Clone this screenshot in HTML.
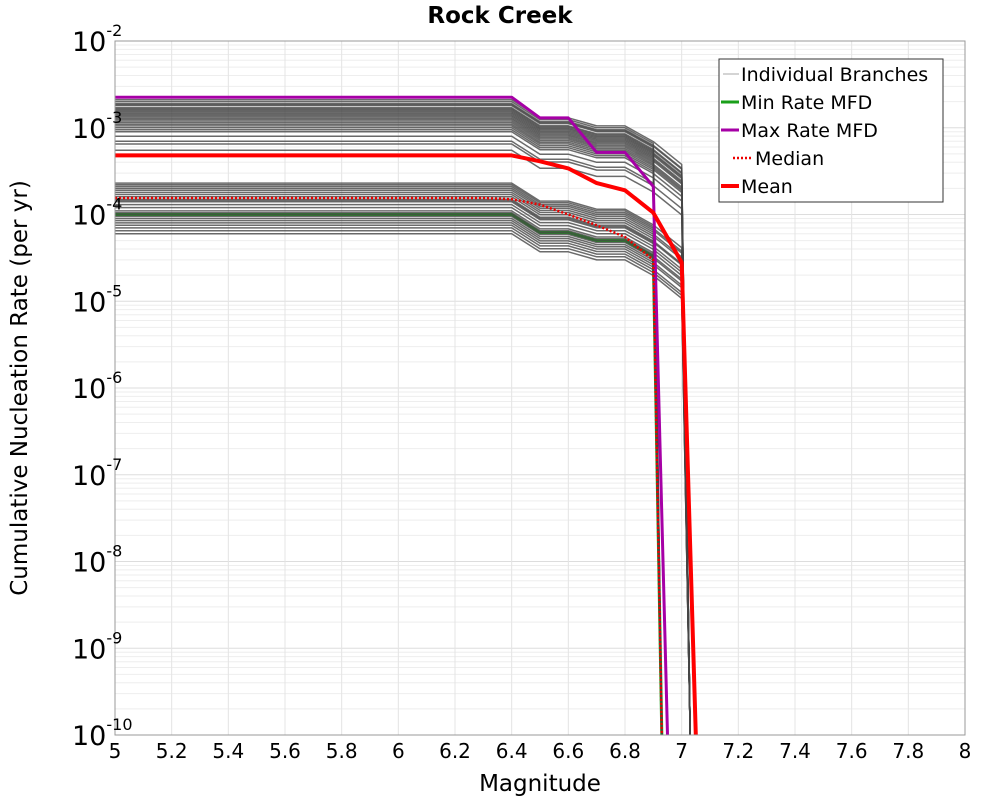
<!DOCTYPE html>
<html><head><meta charset="utf-8"><style>
body{margin:0;background:#fff;font-family:"DejaVu Sans","Liberation Sans",sans-serif}
</style></head><body>
<svg id="chart" width="1000" height="800" xmlns="http://www.w3.org/2000/svg" font-family="DejaVu Sans, Liberation Sans, sans-serif">
<rect width="1000" height="800" fill="#fff"/>
<text x="500" y="23" text-anchor="middle" font-size="23" font-weight="bold">Rock Creek</text>
<g id="grid"></g>
<g id="series"></g>
<rect x="115" y="41" width="850" height="694" fill="none" stroke="#999" stroke-width="1"/>
<g id="axes"></g>
<text x="540" y="791" text-anchor="middle" font-size="23">Magnitude</text>
<text transform="translate(27,388) rotate(-90)" text-anchor="middle" font-size="23">Cumulative Nucleation Rate (per yr)</text>
<g>
<rect x="719" y="59" width="224" height="143" fill="#fff" stroke="#333" stroke-width="1"/>
<g><line x1="723" y1="74" x2="739" y2="74" stroke="#aaa" stroke-width="1"/><text x="741" y="81" font-size="19">Individual Branches</text></g>
<g><line x1="721" y1="102" x2="739" y2="102" stroke="#1a9f1a" stroke-width="3"/><text x="741" y="109" font-size="19">Min Rate MFD</text></g>
<g><line x1="721" y1="130" x2="739" y2="130" stroke="#a600a6" stroke-width="3"/><text x="741" y="137" font-size="19">Max Rate MFD</text></g>
<g><line x1="733" y1="158" x2="751" y2="158" stroke="#e00" stroke-width="2.5" stroke-dasharray="2,2"/><text x="755" y="165" font-size="19">Median</text></g>
<g><line x1="721" y1="186" x2="739" y2="186" stroke="#f00" stroke-width="4"/><text x="741" y="193" font-size="19">Mean</text></g>
</g>
</svg>
<script>
const xTicks=[5,5.2,5.4,5.6,5.8,6,6.2,6.4,6.6,6.8,7,7.2,7.4,7.6,7.8,8];
const xTickLabels=["5","5.2","5.4","5.6","5.8","6","6.2","6.4","6.6","6.8","7","7.2","7.4","7.6","7.8","8"];
const yExps=[-2,-3,-4,-5,-6,-7,-8,-9,-10];
const branchMags=[5,6.4,6.5,6.6,6.7,6.8,6.9,7.0];
const branchShape=[1,1,0.62,0.62,0.5,0.5,0.33,0.18];
const upperBases=[2.1e-3,2.0e-3,1.9e-3,1.85e-3,1.8e-3,1.7e-3,1.65e-3,1.6e-3,1.55e-3,1.5e-3,1.45e-3,1.4e-3,1.35e-3,1.3e-3,1.25e-3,1.2e-3,1.15e-3,1.1e-3,1.05e-3,1.0e-3,9.5e-4,9e-4,8e-4,7e-4,6.5e-4,5.5e-4];
const upperEnds=[7.0,6.9,7.0,7.0,6.9,7.0,7.0,6.9,7.0,7.0,7.0,6.9,7.0,7.0,7.0,6.9,7.0,7.0,7.0,7.0,6.9,7.0,7.0,6.9,7.0,7.0];
const lowerBases=[2.3e-4,2.2e-4,2.1e-4,2.0e-4,1.9e-4,1.8e-4,1.7e-4,1.6e-4,1.5e-4,1.45e-4,1.4e-4,1.3e-4,1.2e-4,1.1e-4,1.05e-4,1e-4,9.5e-5,9e-5,8.5e-5,8e-5,7.5e-5,7e-5,6.5e-5,6e-5];
const lowerEnds=[7.0,6.9,7.0,7.0,6.9,7.0,7.0,6.9,7.0,7.0,6.9,7.0,7.0,7.0,6.9,7.0,7.0,6.9,7.0,7.0,6.9,7.0,7.0,7.0];
const meanMags=[5,6.4,6.5,6.6,6.7,6.8,6.9,7.0,7.05];
const meanVals=[4.8e-4,4.8e-4,4.1e-4,3.4e-4,2.3e-4,1.9e-4,1.05e-4,2.8e-5,1e-10];
const maxMags=[5,6.4,6.5,6.6,6.7,6.8,6.9,6.95];
const maxVals=[2.25e-3,2.25e-3,1.3e-3,1.3e-3,5.2e-4,5.2e-4,2.1e-4,1e-10];
const minMags=[5,6.4,6.5,6.6,6.7,6.8,6.9,6.93];
const minVals=[1e-4,1e-4,6.2e-5,6.2e-5,5e-5,5e-5,3.3e-5,1e-10];
const medMags=[5,6.3,6.4,6.5,6.6,6.7,6.8,6.9,6.93];
const medVals=[1.55e-4,1.55e-4,1.5e-4,1.3e-4,1.0e-4,7.5e-5,5.5e-5,3e-5,1e-10];

const NS="http://www.w3.org/2000/svg";
const X0=115,X1=965,Y0=41,Y1=735;
const xs=m=>X0+(m-5)/3*(X1-X0);
const ys=v=>Y0+(-2-Math.log10(v))/8*(Y1-Y0);
function mk(tag,attrs,parent){const e=document.createElementNS(NS,tag);for(const k in attrs)e.setAttribute(k,attrs[k]);parent.appendChild(e);return e;}
const grid=document.getElementById('grid'),axes=document.getElementById('axes'),ser=document.getElementById('series');
for(let e=-10;e<-2;e++)for(let k=1;k<10;k++){const y=ys(k*Math.pow(10,e));
 const l=mk('line',{x1:X0,x2:X1,y1:y,y2:y,stroke:k==1?'#ddd':'#eee','stroke-width':1},grid);
 
 }
xTicks.forEach((t,i)=>{const x=xs(t);
 const l=mk('line',{x1:x,x2:x,y1:Y0,y2:Y1,stroke:'#e4e4e4','stroke-width':1},grid);
 
 
 const tx=mk('text',{x:x,y:758,'text-anchor':'middle','font-size':20},axes);tx.textContent=xTickLabels[i];
 
 });
yExps.forEach(e=>{const y=ys(Math.pow(10,e));
 const tx=mk('text',{x:72,y:y+10,'font-size':27},axes);
 
 
 tx.textContent='10';const s=mk('tspan',{dy:-15,'font-size':16},tx);s.textContent=String(e);});
function pline(mags,vals,stroke,w,dash,name){
 const pts=mags.map((m,i)=>xs(m).toFixed(1)+','+ys(vals[i]).toFixed(1)).join(' ');
 const p=mk('polyline',{points:pts,fill:'none',stroke:stroke,'stroke-width':w,'stroke-linejoin':'round'},ser);
 if(dash)p.setAttribute('stroke-dasharray',dash);
 
 }
pline(minMags,minVals,'#1a9f1a',3,null,'min-rate-line');
function branches(bases,ends){bases.forEach((b,i)=>{
 const mags=[],vals=[];branchMags.forEach((m,j)=>{if(m<=ends[i]){mags.push(m);vals.push(b*branchShape[j]);}});
 mags.push(ends[i]+0.03);vals.push(1e-10);
 pline(mags,vals,'rgba(70,70,70,0.8)',1.5,null,'branch-line');});}
branches(upperBases,upperEnds);branches(lowerBases,lowerEnds);
pline(maxMags,maxVals,'#a600a6',3,null,'max-rate-line');
pline(medMags,medVals,'#e00',2.5,'2,2','median-line');
pline(meanMags,meanVals,'#f00',4,null,'mean-line');
</script>
</body></html>
